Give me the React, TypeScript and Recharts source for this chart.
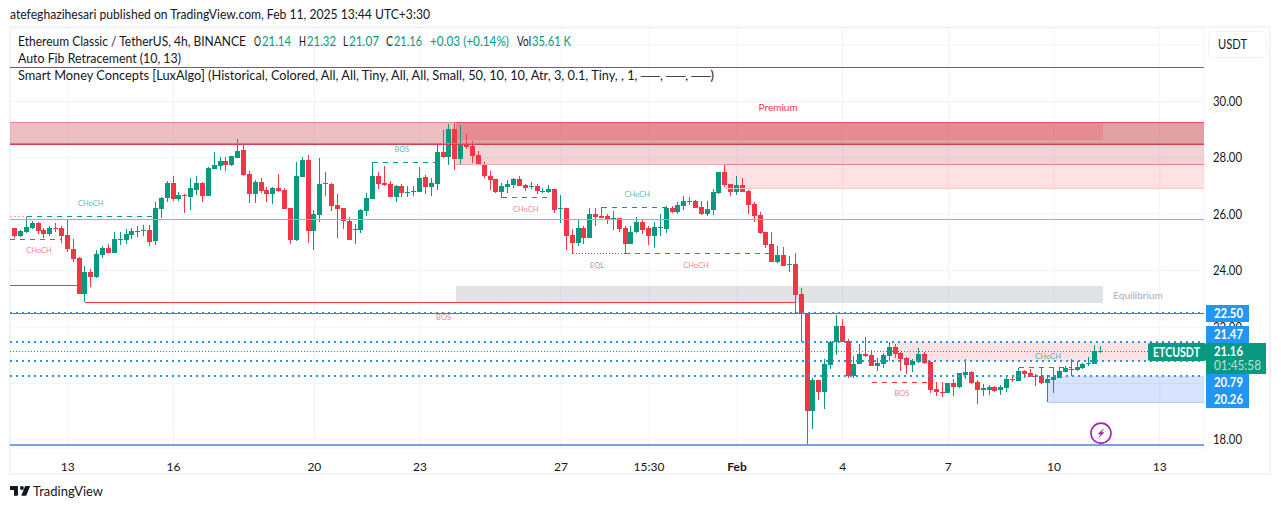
import React from "react";
import {
  ComposedChart,
  Bar,
  XAxis,
  YAxis,
  CartesianGrid,
  ReferenceArea,
  ReferenceLine,
  ReferenceDot
} from "recharts";

const UP = "#089981";
const DOWN = "#F23645";
const BLUE = "#2196F3";
const INK = "#131722";
const FONT = "Lato, 'Noto Sans', sans-serif";

// 4h candles
const opens = [
  25.50, 25.24, 25.37, 25.51, 25.68, 25.44, 25.30, 25.52, 25.51, 25.27, 24.77, 24.45, 23.17, 23.95, 23.78, 24.56,
  24.80, 24.63, 25.09, 25.09, 25.27, 25.39, 25.41, 25.44, 25.06, 26.19, 26.58, 27.11, 26.54, 26.68, 26.61, 26.86,
  27.11, 26.65, 27.61, 27.71, 27.89, 27.75, 27.99, 28.28, 27.43, 26.72, 27.15, 26.86, 26.72, 26.93, 26.86, 26.22,
  25.09, 27.32, 27.93, 25.41, 25.98, 27.11, 27.07, 26.33, 26.22, 25.76, 25.44, 25.44, 26.12, 26.54, 27.36, 27.11,
  27.07, 26.61, 27.00, 26.76, 26.79, 26.79, 27.32, 26.97, 27.07, 28.21, 28.03, 29.03, 27.96, 28.46, 28.42, 28.10,
  27.78, 27.36, 27.25, 26.79, 26.97, 27.04, 27.25, 27.04, 26.97, 27.00, 26.79, 26.79, 26.90, 26.19, 26.22, 25.27,
  24.98, 25.51, 25.16, 26.01, 25.94, 25.94, 25.83, 25.87, 25.51, 24.95, 25.37, 25.73, 25.51, 25.23, 25.51, 25.48,
  26.22, 26.08, 26.29, 26.47, 26.47, 26.26, 26.01, 26.15, 26.76, 27.50, 27.07, 26.79, 27.04, 26.83, 26.37, 25.97,
  25.37, 24.95, 24.31, 24.56, 24.20, 24.24, 23.17, 22.49, 19.03, 20.13, 19.70, 20.66, 21.47, 22.04, 21.51, 20.27,
  20.69, 21.05, 21.01, 20.62, 20.69, 20.98, 21.30, 21.08, 20.90, 20.66, 20.76, 21.05, 20.76, 19.81, 19.70, 19.66,
  20.02, 19.88, 20.30, 20.41, 20.05, 19.77, 19.77, 19.89, 19.77, 19.84, 20.15, 20.08, 20.44, 20.37, 20.26, 20.26,
  20.03, 20.12, 20.19, 20.41, 20.48, 20.48, 20.55, 20.69, 20.69, 21.14
];
const highs = [
  25.53, 25.44, 25.92, 25.76, 25.73, 25.50, 25.58, 25.68, 25.58, 25.82, 25.12, 24.47, 24.17, 24.06, 24.73, 24.87,
  24.95, 25.37, 25.37, 25.47, 25.51, 25.58, 25.62, 25.62, 26.44, 26.61, 27.18, 27.36, 26.79, 26.72, 27.29, 27.36,
  27.15, 27.68, 28.21, 28.03, 28.03, 28.07, 28.67, 28.52, 27.54, 27.22, 27.29, 26.97, 26.97, 27.43, 26.93, 26.22,
  27.85, 28.03, 28.10, 26.15, 27.99, 27.50, 27.11, 26.72, 26.22, 25.90, 25.66, 26.19, 26.75, 27.85, 27.50, 27.71,
  27.18, 27.04, 27.07, 27.00, 27.00, 27.68, 27.39, 27.29, 28.53, 28.99, 29.20, 29.23, 29.17, 28.85, 28.60, 28.24,
  27.85, 27.54, 27.25, 27.11, 27.22, 27.29, 27.36, 27.07, 27.15, 27.07, 26.93, 27.04, 26.90, 26.68, 26.22, 25.48,
  25.83, 25.58, 26.22, 26.22, 26.26, 26.01, 26.12, 25.87, 25.58, 25.58, 25.90, 25.80, 25.58, 25.73, 26.01, 26.29,
  26.29, 26.44, 26.65, 26.61, 26.51, 26.47, 26.47, 26.90, 27.50, 27.78, 27.07, 27.36, 27.29, 26.85, 26.44, 26.08,
  25.37, 25.37, 24.88, 24.84, 24.52, 24.63, 23.39, 22.49, 20.20, 20.13, 20.87, 21.51, 22.43, 22.29, 21.58, 20.98,
  21.40, 21.65, 21.19, 20.90, 21.08, 21.47, 21.40, 21.12, 20.94, 20.87, 21.26, 21.12, 20.80, 20.05, 20.05, 20.02,
  20.16, 20.37, 20.87, 20.44, 20.13, 20.00, 19.96, 19.91, 19.95, 20.22, 20.26, 20.55, 20.48, 20.50, 20.34, 20.55,
  20.30, 20.54, 20.54, 20.62, 20.86, 20.81, 20.74, 20.95, 21.36, 21.32
];
const lows = [
  25.19, 25.19, 25.37, 25.47, 25.31, 25.16, 25.23, 25.37, 24.99, 24.64, 24.31, 23.17, 22.88, 23.42, 23.72, 24.45,
  24.63, 24.63, 24.91, 24.95, 25.12, 25.20, 25.23, 24.88, 24.91, 25.87, 26.44, 26.47, 26.47, 26.05, 26.15, 26.68,
  26.44, 26.65, 27.61, 27.57, 27.53, 27.71, 27.99, 27.34, 26.40, 26.40, 26.76, 26.44, 26.37, 26.79, 26.19, 24.95,
  25.05, 27.32, 24.98, 24.73, 25.73, 26.65, 26.12, 25.16, 25.48, 25.09, 24.95, 25.34, 25.94, 26.54, 26.90, 27.00,
  26.61, 26.44, 26.61, 26.61, 26.65, 26.79, 26.72, 26.65, 26.86, 27.99, 27.75, 27.57, 27.75, 28.32, 27.82, 27.75,
  27.28, 26.86, 26.76, 26.58, 26.76, 26.93, 27.00, 26.83, 26.90, 26.72, 26.76, 26.76, 26.05, 25.69, 24.73, 24.59,
  24.88, 24.95, 25.16, 25.58, 25.87, 25.66, 25.44, 25.37, 24.63, 24.95, 25.34, 25.30, 24.91, 24.80, 25.23, 25.34,
  26.05, 26.01, 26.15, 26.33, 26.22, 25.98, 25.94, 25.98, 26.72, 26.97, 26.65, 26.68, 26.79, 26.01, 25.73, 25.30,
  24.80, 24.31, 24.27, 24.17, 23.95, 22.49, 21.47, 17.81, 18.39, 19.42, 19.10, 20.51, 21.01, 21.47, 20.20, 20.20,
  20.69, 20.94, 20.62, 20.44, 20.55, 20.80, 20.90, 20.44, 20.34, 20.41, 20.73, 20.69, 19.66, 19.56, 19.52, 19.66,
  19.56, 19.84, 20.16, 19.98, 19.27, 19.59, 19.60, 19.70, 19.60, 19.70, 20.03, 20.08, 20.19, 20.23, 19.91, 20.00,
  19.35, 19.67, 20.19, 20.41, 20.26, 20.45, 20.53, 20.62, 20.69, 21.07
];
const closes = [
  25.24, 25.41, 25.54, 25.68, 25.41, 25.31, 25.51, 25.49, 25.23, 24.78, 24.41, 23.17, 23.95, 23.78, 24.59, 24.80,
  24.63, 25.12, 25.13, 25.30, 25.41, 25.41, 25.44, 25.02, 26.21, 26.58, 27.11, 26.54, 26.68, 26.65, 26.93, 27.11,
  26.65, 27.64, 27.75, 27.89, 27.75, 28.07, 28.24, 27.40, 26.72, 27.15, 26.83, 26.72, 26.93, 26.83, 26.19, 25.09,
  27.36, 27.93, 25.41, 26.01, 27.07, 27.07, 26.29, 26.19, 25.76, 25.09, 25.48, 26.15, 26.58, 27.36, 27.07, 27.04,
  26.61, 27.00, 26.76, 26.79, 26.83, 27.29, 26.97, 27.11, 28.21, 28.03, 29.03, 27.96, 28.46, 28.39, 28.07, 27.75,
  27.35, 27.22, 26.79, 27.00, 27.07, 27.25, 27.00, 26.93, 27.00, 26.83, 26.83, 26.90, 26.15, 26.22, 25.23, 24.98,
  25.51, 25.16, 26.01, 25.90, 25.87, 25.80, 25.87, 25.48, 24.95, 25.37, 25.73, 25.44, 25.23, 25.55, 25.55, 26.22,
  26.08, 26.33, 26.47, 26.44, 26.22, 26.01, 26.19, 26.79, 27.50, 27.04, 26.79, 27.04, 26.79, 26.33, 25.94, 25.34,
  24.91, 24.31, 24.56, 24.17, 24.24, 23.14, 22.49, 19.03, 20.13, 19.70, 20.69, 21.47, 22.04, 21.47, 20.27, 20.69,
  21.05, 20.98, 20.62, 20.73, 21.01, 21.30, 21.05, 20.87, 20.66, 20.80, 21.05, 20.73, 19.77, 19.70, 19.66, 20.02,
  19.88, 20.37, 20.41, 20.02, 19.77, 19.83, 19.86, 19.75, 19.86, 20.15, 20.11, 20.44, 20.34, 20.23, 20.23, 20.03,
  20.16, 20.23, 20.44, 20.55, 20.51, 20.58, 20.69, 20.74, 21.15, 21.16
];

const candles = opens.map((open, i) => ({
  i,
  open,
  high: highs[i],
  low: lows[i],
  close: closes[i],
  range: [lows[i], highs[i]]
}));

// x axis: bar index of each date label
const dateTicks = [9, 27, 51, 69, 93, 108, 123, 141, 159, 177, 195];
const dateLabels = ["13", "16", "20", "23", "27", "15:30", "Feb", "4", "7", "10", "13"];
const priceTicks = [18, 20, 22, 24, 26, 28, 30, 32];
const hiddenPriceTicks = [20, 32];

const X_MIN = -0.85;
const X_MAX = 202.55;
const Y_MIN = 17.713;
const Y_MAX = 32.606;

// x1, x2 (bar index), y1, y2 (price)
const premiumWide = [X_MIN, X_MAX, 28.49, 29.24];
const orderBlockUpper = [75.15, X_MAX, 27.78, 29.24];
const premiumInner = [75.15, 185.3, 28.64, 29.24];
const orderBlockLower = [121, X_MAX, 26.93, 27.78];
const equilibrium = [75.15, 185.3, 22.86, 23.46];
const orderBlockMid = [149.4, X_MAX, 20.8, 21.47];
const discount = [176, X_MAX, 19.34, 20.27];

const blueLevels = [22.5, 21.47, 20.8, 20.27];
const lastPrice = 21.15;

// structure lines: from bar, to bar, price
const greenDashed = [
  [2, 24, 25.93],
  [61, 72, 27.84],
  [100, 111, 26.25],
  [171, 180, 20.55]
];
const redDashed = [
  [X_MIN, 8, 25.11],
  [83, 92, 26.6],
  [104, 129, 24.62],
  [146, 156, 20.05]
];
const redSolid = [
  [X_MIN, 11, 23.48],
  [12, 133, 22.89],
  [X_MIN, X_MAX, 22.49]
];

const greenLabels = [
  ["CHoCH", 12.9, 26.4],
  ["BOS", 65.9, 28.32],
  ["CHoCH", 106, 26.72],
  ["EQL", 99.1, 24.2],
  ["CHoCH", 176, 20.98]
];
const redLabels = [
  ["CHoCH", 4.1, 24.73],
  ["CHoCH", 87, 26.19],
  ["CHoCH", 116, 24.2],
  ["BOS", 73, 22.36],
  ["BOS", 151.1, 19.66]
];

const priceTags = [
  ["22.50", 305],
  ["21.47", 326],
  ["20.79", 374],
  ["20.26", 391]
];

function Candle(props: any) {
  const { x, y, width, height, payload } = props;
  if (!payload || !height) return null;
  const perUnit = height / (payload.high - payload.low);
  const toY = (p: number) => y + (payload.high - p) * perUnit;
  const color = payload.close >= payload.open ? UP : DOWN;
  const left = Math.round(x + width / 2 - 2.5);
  const top = Math.round(toY(Math.max(payload.open, payload.close)));
  const bottom = Math.round(toY(Math.min(payload.open, payload.close)));
  return (
    <g>
      <rect x={left + 2} y={Math.round(y)} width={1} height={Math.max(1, Math.round(height))} fill={color} />
      <rect x={left} y={top} width={5} height={Math.max(1, bottom - top)} fill={color} />
    </g>
  );
}

function DateTick(props: any) {
  const { x, y, payload } = props;
  const idx = dateTicks.indexOf(payload.value);
  const label = dateLabels[idx];
  return (
    <text
      x={x}
      y={y + 15}
      textAnchor="middle"
      fontFamily={FONT}
      fontSize={12}
      fontWeight={label === "Feb" ? 700 : 400}
      fill={INK}
    >
      {label}
    </text>
  );
}

function PriceTick(props: any) {
  const { x, y, payload } = props;
  if (hiddenPriceTicks.includes(payload.value)) return null;
  return (
    <text
      x={x + 1}
      y={y + 4.5}
      fontFamily={FONT}
      fontSize={13}
      fill={INK}
      textLength={29}
      lengthAdjust="spacingAndGlyphs"
    >
      {payload.value.toFixed(2)}
    </text>
  );
}

function textShape(label: string, color: string, size: number) {
  return (p: any) => (
    <text x={p.cx} y={p.cy + size / 3 + 0.8} textAnchor="middle" fontFamily={FONT} fontSize={size} fill={color}>
      {label}
    </text>
  );
}

function area(z: number[], fill: string) {
  return (
    <ReferenceArea
      x1={z[0]}
      x2={z[1]}
      y1={z[2]}
      y2={z[3]}
      fill={fill}
      fillOpacity={1}
      stroke="none"
      shapeRendering="crispEdges"
      ifOverflow="visible"
    />
  );
}

function segment(s: number[], color: string, dash?: string, width = 1) {
  return (
    <ReferenceLine
      segment={[
        { x: s[0], y: s[2] },
        { x: s[1], y: s[2] }
      ]}
      stroke={color}
      strokeDasharray={dash}
      strokeWidth={width}
      shapeRendering="crispEdges"
      ifOverflow="visible"
    />
  );
}

const Flash = (p: any) => (
  <g>
    <circle cx={p.cx} cy={p.cy} r={10} fill="none" stroke="#9C27B0" strokeWidth={1.6} />
    <path
      d={`M${p.cx + 3.5} ${p.cy - 5.5}L${p.cx - 3.5} ${p.cy + 1}H${p.cx - 0.4}L${p.cx - 3} ${p.cy + 5.5}L${p.cx + 3.5} ${p.cy - 1}H${p.cx + 0.6}Z`}
      fill="#9C27B0"
    />
  </g>
);

// text fitted to the width it takes in the reference
function T(props: {
  x: number;
  y: number;
  w: number;
  size?: number;
  color?: string;
  bold?: boolean;
  opacity?: number;
  children: string;
}) {
  return (
    <text
      x={props.x}
      y={props.y}
      textLength={props.w}
      lengthAdjust="spacingAndGlyphs"
      fontFamily={FONT}
      fontSize={props.size || 13}
      fontWeight={props.bold ? 700 : 400}
      fill={props.color || INK}
      opacity={props.opacity}
    >
      {props.children}
    </text>
  );
}

export default function App() {
  return (
    <div
      style={{
        position: "absolute",
        left: 0,
        top: 0,
        width: 1281,
        height: 509,
        background: "#fff",
        overflow: "hidden"
      }}
    >
      <div
        style={{
          position: "absolute",
          left: 9,
          top: 26,
          width: 1258,
          height: 445,
          border: "2px solid #f3f4f6"
        }}
      />
      <div style={{ position: "absolute", left: 0, top: 0 }}>
        <ComposedChart
          width={1281}
          height={509}
          data={candles}
          margin={{ top: 28, right: 0, bottom: 0, left: 10 }}
        >
          <CartesianGrid stroke="#f0f3fa" />
          <XAxis
            dataKey="i"
            type="number"
            domain={[X_MIN, X_MAX]}
            allowDataOverflow
            ticks={dateTicks}
            interval={0}
            height={61}
            axisLine={false}
            tickLine={false}
            tick={<DateTick />}
          />
          <YAxis
            type="number"
            orientation="right"
            domain={[Y_MIN, Y_MAX]}
            allowDataOverflow
            ticks={priceTicks}
            interval={0}
            width={77}
            axisLine={false}
            tickLine={false}
            tick={<PriceTick />}
          />

          {area(premiumWide, "rgba(200,60,70,0.33)")}
          {area(orderBlockUpper, "rgba(200,60,70,0.23)")}
          {area(premiumInner, "rgba(242,54,69,0.2)")}
          {area(orderBlockLower, "rgba(242,54,69,0.15)")}
          {area(equilibrium, "rgba(135,139,148,0.25)")}
          {area(orderBlockMid, "rgba(242,54,69,0.15)")}
          {area(discount, "rgba(41,98,255,0.18)")}

          {segment([X_MIN, X_MAX, 31.19], "#1b8a78")}
          {segment([X_MIN, X_MAX, 25.82], "#86c78f")}
          {segment([X_MIN, 75.15, 29.24], "#e08a8f")}
          {segment([75.15, X_MAX, 29.24], "#e0525e")}
          {segment([X_MIN, X_MAX, 28.47], "#d9404e")}
          {segment([X_MIN, X_MAX, 28.51], "#5fb56d")}
          {segment([75.15, 121, 27.78], "#e8b0b5")}
          {segment([121, X_MAX, 27.78], "#e0808a")}
          {segment([121, X_MAX, 26.93], "#f7c9cc")}
          {segment([176, X_MAX, 19.34], "#b3ccf5")}
          {segment([X_MIN, X_MAX, 17.82], "#7f9ee8", undefined, 2)}

          {redSolid.map((s, k) => (
            <React.Fragment key={k}>{segment(s, DOWN)}</React.Fragment>
          ))}
          {blueLevels.map((p, k) => (
            <React.Fragment key={k}>{segment([X_MIN, X_MAX, p], BLUE, "2 4", 2)}</React.Fragment>
          ))}
          {segment([X_MIN, X_MAX, lastPrice], UP, "1 2")}
          {segment([95, 104, 24.62], UP, "1 2")}
          {segment([X_MIN, 2, 25.93], "#f7a6ac", "2 2")}
          {greenDashed.map((s, k) => (
            <React.Fragment key={k}>{segment(s, UP, "5 5")}</React.Fragment>
          ))}
          {redDashed.map((s, k) => (
            <React.Fragment key={k}>{segment(s, DOWN, "5 5")}</React.Fragment>
          ))}

          <Bar dataKey="range" barSize={5} shape={<Candle />} isAnimationActive={false} />

          {greenLabels.map((l, k) => (
            <ReferenceDot
              key={k}
              x={l[1] as number}
              y={l[2] as number}
              r={0}
              shape={textShape(l[0] as string, "rgba(8,153,129,0.7)", 7.5)}
            />
          ))}
          {redLabels.map((l, k) => (
            <ReferenceDot
              key={k}
              x={l[1] as number}
              y={l[2] as number}
              r={0}
              shape={textShape(l[0] as string, "rgba(242,54,69,0.65)", 7.5)}
            />
          ))}
          <ReferenceDot x={130} y={29.8} r={0} shape={textShape("Premium", "#F23645", 10)} />
          <ReferenceDot x={191.3} y={23.14} r={0} shape={textShape("Equilibrium", "#a9abb3", 10)} />
          <ReferenceDot x={185} y={18.24} r={0} shape={Flash} />
        </ComposedChart>
      </div>

      {/* header, legend and price scale widgets */}
      <svg style={{ position: "absolute", left: 0, top: 0 }} width={1281} height={509}>
        <T x={10} y={19} w={420}>atefeghazihesari published on TradingView.com, Feb 11, 2025 13:44 UTC+3:30</T>

        <T x={18} y={45.5} w={228}>Ethereum Classic / TetherUS, 4h, BINANCE</T>
        <T x={254} y={45.5} w={7}>O</T>
        <T x={262} y={45.5} w={29} color={UP}>21.14</T>
        <T x={299} y={45.5} w={7}>H</T>
        <T x={307} y={45.5} w={29} color={UP}>21.32</T>
        <T x={343} y={45.5} w={5}>L</T>
        <T x={349} y={45.5} w={30} color={UP}>21.07</T>
        <T x={386} y={45.5} w={7}>C</T>
        <T x={394} y={45.5} w={28} color={UP}>21.16</T>
        <T x={430} y={45.5} w={79} color={UP}>+0.03 (+0.14%)</T>
        <T x={517} y={45.5} w={14}>Vol</T>
        <T x={532} y={45.5} w={39} color={UP}>35.61 K</T>
        <T x={18} y={63} w={163}>Auto Fib Retracement (10, 13)</T>
        <T x={18} y={80} w={696}>Smart Money Concepts [LuxAlgo] (Historical, Colored, All, All, Tiny, All, All, Small, 50, 10, 10, Atr, 3, 0.1, Tiny, , 1, ──, ──, ──)</T>

        <rect x={1208.5} y={31.5} width={58} height={26} rx={4} fill="#fff" stroke="#f0f3fa" />
        <T x={1218} y={49} w={29}>USDT</T>

        {priceTags.map(([label, top]) => (
          <g key={label}>
            <rect x={1206} y={top as number} width={43} height={17} fill={BLUE} />
            <T x={1214} y={(top as number) + 13} w={29} color="#fff" bold>{label as string}</T>
          </g>
        ))}
        <rect x={1148} y={343} width={58} height={18} rx={2} fill={UP} />
        <T x={1153} y={356.5} w={47} color="#fff" bold>ETCUSDT</T>
        <rect x={1206} y={343} width={60} height={31} fill={UP} />
        <T x={1214} y={356} w={29} color="#fff" bold>21.16</T>
        <T x={1214} y={370} w={47} color="#fff" opacity={0.7}>01:45:58</T>

        <path
          transform="translate(8.7 482) scale(0.66)"
          d="M14 6H2v6h6v9h6V6Zm12.5 15H19l6-15h7.5l-6 15ZM20 6a3 3 0 1 1 0 6 3 3 0 0 1 0-6Z"
          fill={INK}
        />
        <T x={33} y={496} w={70} size={14}>TradingView</T>
      </svg>
    </div>
  );
}
